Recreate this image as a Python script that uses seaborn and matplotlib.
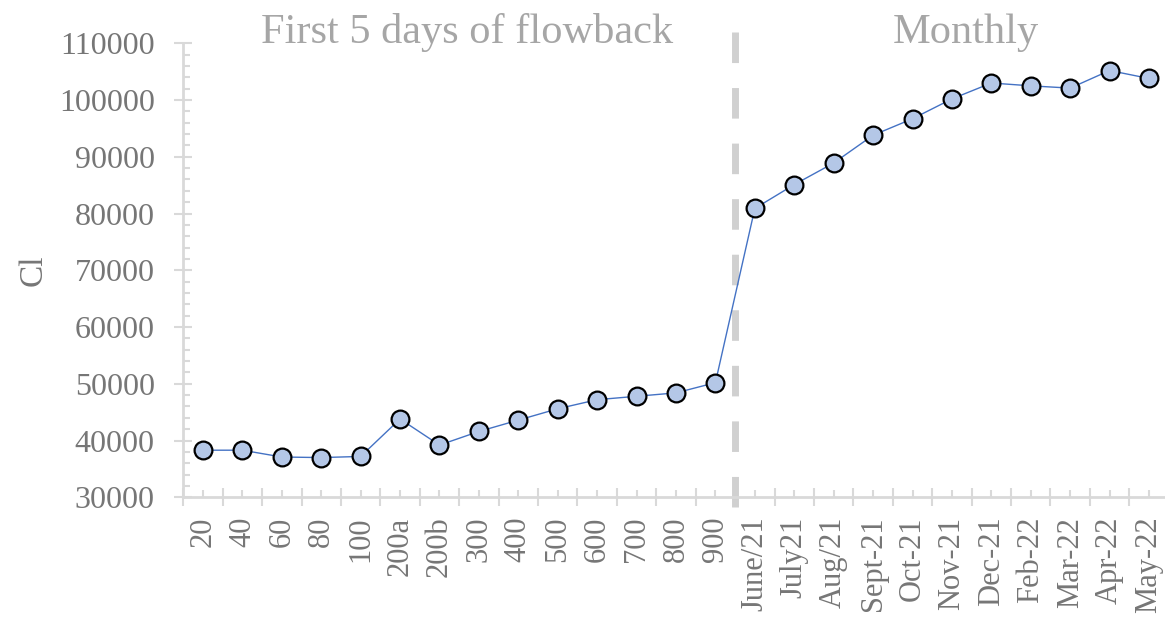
import numpy as np
import pandas as pd
import matplotlib
matplotlib.use("Agg")
import matplotlib.pyplot as plt
import seaborn as sns

# Cl concentration, first 5 days of flowback then monthly samples
flowback_labels = ["20", "40", "60", "80", "100", "200a", "200b", "300",
                   "400", "500", "600", "700", "800", "900"]
flowback_cl = [38300, 38300, 37100, 37000, 37200, 43800, 39200, 41600,
               43600, 45600, 47200, 47800, 48400, 50200]

monthly_labels = ["June/21", "July21", "Aug/21", "Sept-21", "Oct-21", "Nov-21",
                  "Dec-21", "Feb-22", "Mar-22", "Apr-22", "May-22"]
monthly_cl = [80900, 85100, 88900, 93800, 96700, 100200,
              103000, 102500, 102100, 105200, 103800]

labels = flowback_labels + monthly_labels
values = flowback_cl + monthly_cl
df = pd.DataFrame({"pos": np.arange(len(labels)), "Cl": values})

sns.set_style("white")
plt.rcParams["font.family"] = ["Liberation Serif", "DejaVu Serif"]

axis_grey = "#D9D9D9"
text_grey = "#767676"
title_grey = "#A6A6A6"

fig = plt.figure(figsize=(11.65, 6.2), dpi=100)
ax = fig.add_axes([0.1573, 0.1979, 0.8459, 0.7323])

sns.lineplot(data=df, x="pos", y="Cl", ax=ax, color="#4472C4", linewidth=1.0,
             marker="o", markersize=12.8, markerfacecolor="#B4C7E7",
             markeredgecolor="black", markeredgewidth=1.6, zorder=3)

ax.set_xlim(-0.5, len(labels) - 0.5)
ax.set_ylim(30000, 110000)

# ticks: labelled ones at categories, crossing ones at category borders
ax.set_xticks(df["pos"])
ax.set_xticklabels(labels, rotation=90, va="top", ha="center")
ax.set_xticks(np.arange(len(labels) + 1) - 0.5, minor=True)
ax.set_yticks(np.arange(30000, 110001, 10000))
ax.set_yticks(np.arange(30000, 110001, 2000), minor=True)

ax.tick_params(which="both", bottom=True, left=True)
ax.tick_params(axis="x", which="major", direction="in", length=5, width=1.5,
               color=axis_grey, labelsize=22, labelcolor=text_grey, pad=14)
ax.tick_params(axis="x", which="minor", direction="inout", length=13, width=1.5,
               color=axis_grey)
ax.tick_params(axis="y", which="major", direction="inout", length=13, width=1.5,
               color=axis_grey, labelsize=23, labelcolor=text_grey, pad=14)
ax.tick_params(axis="y", which="minor", direction="in", length=5, width=1.5,
               color=axis_grey)

for side in ["top", "right"]:
    ax.spines[side].set_visible(False)
for side in ["left", "bottom"]:
    ax.spines[side].set_color(axis_grey)
    ax.spines[side].set_linewidth(2)

ax.set_xlabel("")
ax.set_ylabel("Cl", fontsize=24, color=text_grey)
ax.yaxis.set_label_coords(-0.137, 0.5)

# divider between the flowback and monthly periods
split = len(flowback_labels) - 0.5
ax.axvline(split, ymin=-0.021, ymax=1.034, color="#D0D0D0", linewidth=5,
           dashes=(4.4, 3.6), clip_on=False, zorder=1)

ax.text(6.7, 110000, "First 5 days of flowback", fontsize=30.5, color=title_grey,
        ha="center", va="baseline")
ax.text(19.35, 110000, "Monthly", fontsize=30.5, color=title_grey,
        ha="center", va="baseline")

fig.savefig("out.png", dpi=100)
